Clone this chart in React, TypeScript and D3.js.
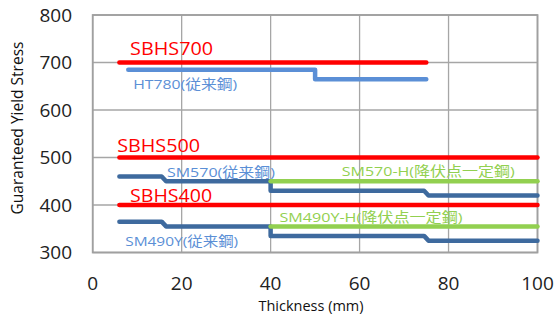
import React from "react";
import * as d3 from "d3";

type Pt = [number, number];

const xTicks = [0, 20, 40, 60, 80, 100];
const yTicks = [300, 400, 500, 600, 700, 800];

const SBHS700: Pt[] = [[6, 700], [75, 700]];
const HT780: Pt[] = [[8, 685], [50, 685], [50, 665], [75, 665]];
const SBHS500: Pt[] = [[6, 500], [100, 500]];
const SM570: Pt[] = [[6, 460], [15.5, 460], [16.5, 450], [40, 450], [40, 430], [74.5, 430], [75.5, 420], [100, 420]];
const SM570H: Pt[] = [[40, 450], [100, 450]];
const SBHS400: Pt[] = [[6, 400], [100, 400]];
const SM490YH: Pt[] = [[40, 355], [100, 355]];
const SM490Y: Pt[] = [[6, 365], [15.5, 365], [16.5, 355], [40, 355], [40, 335], [74.5, 335], [75.5, 325], [100, 325]];

const RED = "#FF0000";
const LIGHT = "#5B8FD6";
const DARK = "#3E6A9E";
const GREEN = "#92D050";

const series = [
  { name: "SM490Y", data: SM490Y, color: DARK, width: 4.5 },
  { name: "SM490Y-H", data: SM490YH, color: GREEN, width: 4.5 },
  { name: "SM570", data: SM570, color: DARK, width: 4.5 },
  { name: "SM570-H", data: SM570H, color: GREEN, width: 4.5 },
  { name: "HT780", data: HT780, color: LIGHT, width: 4.5 },
  { name: "SBHS400", data: SBHS400, color: RED, width: 4.5 },
  { name: "SBHS500", data: SBHS500, color: RED, width: 4.5 },
  { name: "SBHS700", data: SBHS700, color: RED, width: 4.5 },
];

const labelTexts = ["SBHS700", "HT780(従来鋼)", "SBHS500", "SM570(従来鋼)", "SBHS400", "SM490Y(従来鋼)", "SM570-H(降伏点一定鋼)", "SM490Y-H(降伏点一定鋼)"];
const labelAt: Pt[] = [[8.4, 716], [9.1, 644], [5.5, 512], [16.7, 460], [8.4, 407], [7.3, 314], [56, 462], [42, 364]];
const labelColor = [RED, LIGHT, RED, LIGHT, RED, LIGHT, GREEN, GREEN];
const labelSize = [18, 13.5, 18, 13.5, 18, 13.5, 13.5, 13.5];
const labelLen = [83, 104, 83, 108, 82, 113, 173, 183];

const FONT = "'Open Sans', 'Noto Sans', 'Noto Sans CJK JP', sans-serif";

export default function App() {
  const x = d3.scaleLinear().domain([0, 100]).range([92.7, 537.5]);
  const y = d3.scaleLinear().domain([300, 800]).range([252.5, 15]);
  const line = d3.line<Pt>().x((d) => x(d[0])).y((d) => y(d[1]));

  return (
    <svg width={555} height={320} style={{ position: "absolute", left: 0, top: 0, background: "#fff" }} fontFamily={FONT}>
      {xTicks.map((t) => (
        <line key={"gx" + t} x1={x(t)} x2={x(t)} y1={y(300)} y2={y(800)} stroke="#A6A6A6" strokeWidth={1.3} />
      ))}
      {yTicks.map((t) => (
        <line key={"gy" + t} x1={x(0)} x2={x(100)} y1={y(t)} y2={y(t)} stroke="#A6A6A6" strokeWidth={1.3} />
      ))}
      <rect x={x(0)} y={y(800)} width={x(100) - x(0)} height={y(300) - y(800)} fill="none" stroke="#A0A0A0" strokeWidth={1.8} />
      {series.map((s) => (
        <path key={s.name} d={line(s.data) || ""} fill="none" stroke={s.color} strokeWidth={s.width} strokeLinejoin="round" strokeLinecap="round" />
      ))}
      {labelTexts.map((t, i) => (
        <text key={t} x={x(labelAt[i][0])} y={y(labelAt[i][1])} fill={labelColor[i]} fontSize={labelSize[i]} textLength={labelLen[i]} lengthAdjust="spacingAndGlyphs">
          {t}
        </text>
      ))}
      {yTicks.map((t) => (
        <text key={"yt" + t} x={72} y={y(t)} dy="0.35em" textAnchor="end" fontSize={19} fill="#222">
          {t}
        </text>
      ))}
      {xTicks.map((t) => (
        <text key={"xt" + t} x={x(t)} y={290} textAnchor="middle" fontSize={19} fill="#222">
          {t}
        </text>
      ))}
      <text x={311} y={311} textAnchor="middle" fontSize={14.5} fill="#111">Thickness (mm)</text>
      <text transform="translate(23,128) rotate(-90)" textAnchor="middle" fontSize={15.5} fill="#111">Guaranteed Yield Stress</text>
    </svg>
  );
}
